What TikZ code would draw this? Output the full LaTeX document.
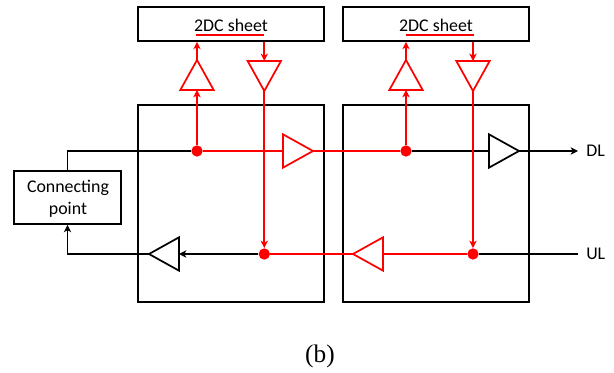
\documentclass[tikz,border=0pt]{standalone}
\usepackage{fontspec}
\setmainfont{Carlito}
\newfontfamily\capfont{Liberation Serif}
\usetikzlibrary{arrows.meta,shapes.geometric}

\begin{document}
\begin{tikzpicture}[
  x=0.75pt, y=-0.75pt,
  font=\fontsize{13.4}{16.5}\selectfont,
  >={Stealth[length=5.5pt,width=5.5pt,inset=1.5pt]},
  sheet/.style={draw, line width=1.3pt, minimum width=139.5pt, minimum height=25.5pt, inner sep=0pt},
  card/.style={draw, line width=1.3pt, minimum width=139.5pt, minimum height=147.75pt, inner sep=0pt},
  conn/.style={draw, line width=1.3pt, minimum width=80.25pt, minimum height=39.75pt, inner sep=0pt},
  amp/.style={draw, isosceles triangle, isosceles triangle stretches, line width=1.3pt, inner sep=0pt, outer sep=0pt, fill=white, anchor=apex, minimum width=25pt, minimum height=22.5pt},
  dotn/.style={circle, fill=red, minimum size=8.5pt, inner sep=0pt},
  sig/.style={line width=1.3pt},
  rsig/.style={line width=1.3pt, red},
]
\useasboundingbox (0,0) rectangle (614,373);
% boxes
\node[card] (card1) at (231,203.5) {};
\node[card] (card2) at (436,203.5) {};
\node[sheet] (sheet1) at (231,24) {};
\node[sheet] (sheet2) at (436,24) {};
\node[conn] (cp) at (67.5,197.5) {};
\node[align=center, inner sep=0pt] (cptxt) at (68,198.5) {Connecting\\point};
% sheet labels
\node[inner sep=0pt] (lab1) at (231,25) {2DC sheet};
\node[inner sep=0pt] (lab2) at (436,25) {2DC sheet};
% splitter points
\node[dotn] (dl1) at (197,151) {};
\node[dotn] (dl2) at (406,151) {};
\node[dotn] (ul1) at (264.3,254) {};
\node[dotn] (ul2) at (473,254) {};
% amplifiers
\node[amp, draw=red, shape border rotate=90] (up1) at (197,60) {};
\node[amp, draw=red, shape border rotate=90] (up2) at (406,60) {};
\node[amp, draw=red, shape border rotate=-90] (dn1) at (264.3,91) {};
\node[amp, draw=red, shape border rotate=-90] (dn2) at (473,91) {};
\node[amp, draw=red] (fw1) at (313,151) {};
\node[amp] (fw2) at (519,151) {};
\node[amp, shape border rotate=180] (bk1) at (149,254) {};
\node[amp, draw=red, shape border rotate=180] (bk2) at (353,254) {};
% line ends and underlines
\coordinate (dlend) at (578,151);
\coordinate (ulend) at (578,254);
\coordinate (und1a) at (196,35);
\coordinate (und1b) at (264.3,35);
\coordinate (und2a) at (406,35);
\coordinate (und2b) at (473.5,35);
\node[anchor=west, inner sep=0pt] (dltxt) at (586,151) {DL};
\node[anchor=west, inner sep=0pt] (ultxt) at (586,254) {UL};
\node[font=\capfont\fontsize{19}{22}\selectfont, inner sep=0pt] (cap) at (320,356) {(b)};
% black paths
\draw[sig] (cp.north) |- (dl1);
\draw[sig] (dl2) -- (fw2.lower side);
\draw[sig, ->] (fw2.apex) -- (dlend);
\draw[sig] (ul2) -- (ulend);
\draw[sig, ->] (ul1) -- (bk1.lower side);
\draw[sig, ->] (bk1.apex) -| (cp.south);
% red paths
\draw[rsig] (dl1) -- (fw1.lower side);
\draw[rsig] (fw1.apex) -- (dl2);
\draw[rsig] (ul2) -- (bk2.lower side);
\draw[rsig] (bk2.apex) -- (ul1);
\foreach \n/\s/\d in {1/sheet1/dl1, 2/sheet2/dl2} {
  \draw[rsig, ->] (\d) -- (up\n.lower side);
  \draw[rsig, ->] (up\n.apex) -- (up\n.apex |- \s.south);
}
\foreach \n/\s/\d in {1/sheet1/ul1, 2/sheet2/ul2} {
  \draw[rsig, ->] (dn\n.lower side |- \s.south) -- (dn\n.lower side);
  \draw[rsig, ->] (dn\n.apex) -- (\d);
}
\draw[rsig] (und1a) -- (und1b);
\draw[rsig] (und2a) -- (und2b);
\end{tikzpicture}
\end{document}
